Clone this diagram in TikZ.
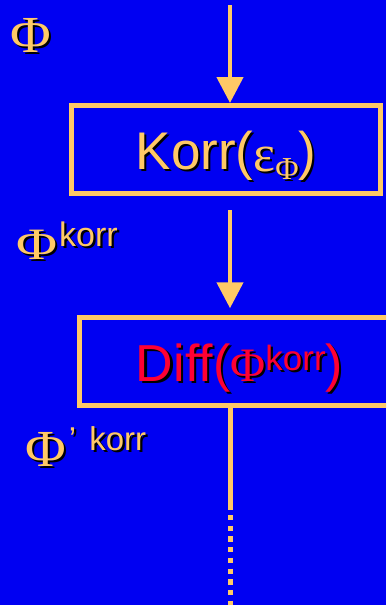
\documentclass[tikz,border=0pt]{standalone}
\usepackage{fontspec}
\setmainfont{Liberation Sans}
\newfontfamily\serifgr{Liberation Serif}
\usetikzlibrary{arrows.meta}
\definecolor{bg}{HTML}{0000F2}
\definecolor{gold}{HTML}{FFC966}
\definecolor{redtxt}{HTML}{FF0033}
\newcommand{\shd}[1]{\makebox[0pt][l]{\hspace{2.2pt}\raisebox{-2.2pt}{\color{black}#1}}#1}
\newcommand{\fs}[1]{\fontsize{#1}{#1}\selectfont}
\begin{document}
\begin{tikzpicture}[x=1pt,y=-1pt,
  box/.style={draw=gold, line width=5pt, minimum height=88pt,
    inner sep=0pt, text height=39pt, text depth=0pt, text=gold},
  arr/.style={draw=gold, line width=4.5pt, -{Triangle[length=26pt,width=26pt]}},
  lbl/.style={inner sep=0pt, text=gold},
  wire/.style={draw=gold, line width=5pt}]
\useasboundingbox (0,0) rectangle (386,605);
\fill[bg] (0,0) rectangle (386,605);
\clip (0,0) rectangle (386,605);
\node[box, minimum width=309pt] (k) at (226,149.5)
  {\shd{\fs{53}Korr(\raisebox{-2pt}{\serifgr\fs{52}ε}\raisebox{-10pt}{\serifgr\fs{32}Φ})}};
\node[box, minimum width=320pt, text=redtxt] (d) at (239.5,361.75)
  {\shd{\fs{52}Diff({\serifgr\fs{48}Φ}\raisebox{11pt}{\fs{35}korr})}\hspace{11pt}};
\node[lbl, anchor=base west] (phi1) at (10,52) {\shd{\scalebox{1.07}[1]{\serifgr\fs{52}Φ}}};
\node[lbl, anchor=base west] (phi2) at (16,259)
  {\shd{\scalebox{1.1}[0.88]{\serifgr\fs{51}Φ}\hspace{2pt}\raisebox{13pt}{\fs{34}korr}}};
\node[lbl, anchor=base west] (phi3) at (25,466)
  {\shd{\scalebox{1.07}[1]{\serifgr\fs{52}Φ}\raisebox{16pt}{\fs{33}\hspace{3pt}’\hspace{4pt} korr}}};
\coordinate (a0) at (230,5);
\coordinate (a1) at (230,210);
\coordinate (s1) at (230,510);
\coordinate (s2) at (230,515);
\coordinate (s3) at (230,615);
\draw[arr] (a0) -- (a0 |- k.north);
\draw[arr, shorten >=7pt] (a1) -- (a1 |- d.north);
\draw[wire] (s1 |- d.south) -- (s1);
\draw[wire, dash pattern=on 5.3pt off 5.4pt] (s2) -- (s3);
\end{tikzpicture}
\end{document}
